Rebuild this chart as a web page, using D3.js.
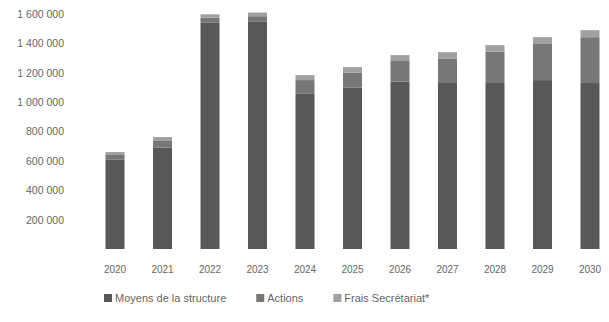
<!DOCTYPE html>
<html>
<head>
<meta charset="utf-8">
<script src="https://cdn.jsdelivr.net/npm/d3@7"></script>
<style>
  html, body { margin: 0; padding: 0; background: #fff; }
  svg { display: block; font-family: "Liberation Sans", Arial, sans-serif; }
</style>
</head>
<body>
<svg id="chart" width="609" height="322"></svg>
<script>
// Budget par année (en euros), empilé par poste
const years = ["2020", "2021", "2022", "2023", "2024", "2025", "2026", "2027", "2028", "2029", "2030"];
const moyens = [610000, 690000, 1540000, 1550000, 1060000, 1100000, 1140000, 1130000, 1130000, 1150000, 1130000];
const actions = [30000, 50000, 35000, 35000, 90000, 100000, 140000, 168000, 214000, 246000, 312000];
const frais = [20000, 22000, 23000, 25000, 34000, 38000, 40000, 42000, 44000, 46000, 48000];
const seriesNames = ["Moyens de la structure", "Actions", "Frais Secrétariat*"];
const seriesColors = ["#585858", "#777777", "#a0a0a0"];
const yTicks = [200000, 400000, 600000, 800000, 1000000, 1200000, 1400000, 1600000];

const svg = d3.select("#chart");
const margin = { top: 14, left: 96, right: 0, bottom: 73 };
const W = 609, H = 322;

const rows = years.map((y, i) => ({ year: y, m: moyens[i], a: actions[i], f: frais[i] }));
const stack = d3.stack().keys(["m", "a", "f"])(rows);

const x = d3.scaleBand().domain(years)
  .range([margin.left, W - margin.right])
  .paddingInner(0.6).paddingOuter(0.2);
const y = d3.scaleLinear().domain([0, 1600000]).range([H - margin.bottom, margin.top]);

const fmt = v => d3.format(",")(v).replace(/,/g, " ");

// Axe des valeurs (sans trait)
const yAxis = svg.append("g")
  .attr("transform", `translate(${margin.left - 29},0)`)
  .call(d3.axisLeft(y).tickValues(yTicks).tickFormat(fmt).tickSize(0));
yAxis.select(".domain").remove();
yAxis.selectAll("text").attr("fill", "#666").style("font-size", "10.5px")
  .style("font-family", "Liberation Sans, Arial, sans-serif");

// Barres empilées
svg.append("g").selectAll("g").data(stack).join("g")
  .attr("fill", (d, i) => seriesColors[i])
  .selectAll("rect").data(d => d).join("rect")
  .attr("x", d => x(d.data.year))
  .attr("width", x.bandwidth())
  .attr("y", d => y(d[1]))
  .attr("height", d => y(d[0]) - y(d[1]));

// Axe des années
const xAxis = svg.append("g")
  .attr("transform", `translate(0,${H - margin.bottom + 14})`)
  .call(d3.axisBottom(x).tickSize(0));
xAxis.select(".domain").remove();
xAxis.selectAll("text").attr("fill", "#666").style("font-size", "10px")
  .style("font-family", "Liberation Sans, Arial, sans-serif");

// Légende
const legend = svg.append("g").attr("transform", "translate(0,298)");
let lx = 104;
seriesNames.forEach((name, i) => {
  const g = legend.append("g").attr("transform", `translate(${lx},0)`);
  g.append("rect").attr("x", 0).attr("y", -4).attr("width", 8).attr("height", 8)
    .attr("fill", seriesColors[i]);
  const t = g.append("text").attr("x", 11).attr("y", 0).attr("dy", "0.35em")
    .attr("fill", "#666").style("font-size", "11px").text(name);
  lx += 11 + t.node().getComputedTextLength() + 30;
});
</script>
</body>
</html>
